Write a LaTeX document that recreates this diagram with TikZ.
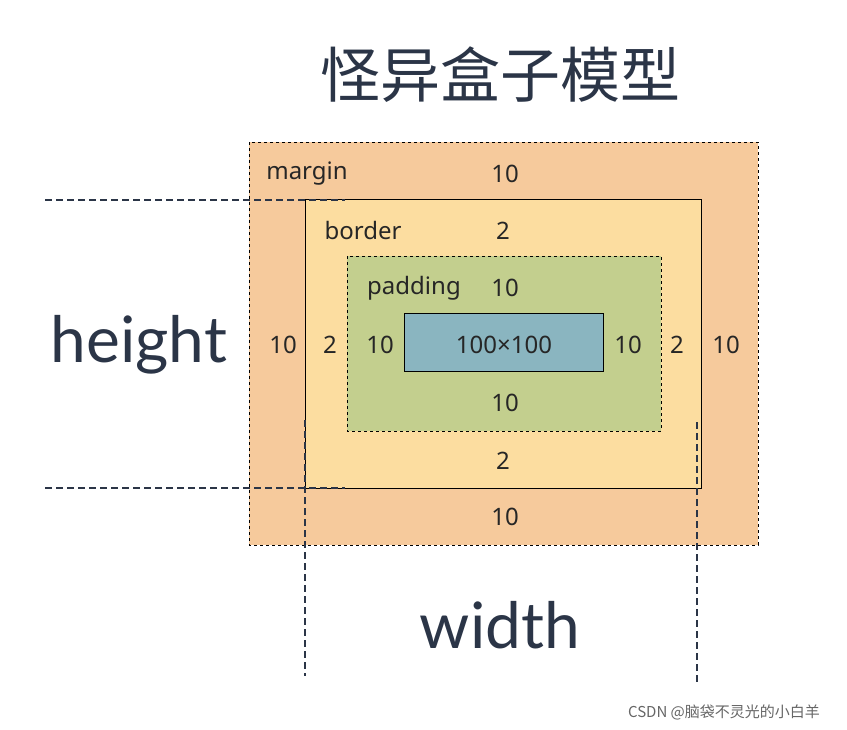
\documentclass[tikz,border=0pt]{standalone}
\usepackage{fontspec}
\setmainfont{Noto Sans}
\newfontfamily\cjk{Noto Sans CJK SC}
\newfontfamily\bigf{Lato}
\definecolor{mcol}{HTML}{F6CA9C}
\definecolor{bcol}{HTML}{FCDDA0}
\definecolor{pcol}{HTML}{C3CF8E}
\definecolor{ccol}{HTML}{8AB5C0}
\definecolor{navy}{HTML}{2B3547}
\tikzset{lbl/.style={font=\fontsize{24}{28}\selectfont, text=black!85, inner sep=0pt},
 guide/.style={draw=navy, line width=2.2pt, dash pattern=on 7pt off 4pt},
 big/.style={font=\bigf\fontsize{64}{70}\selectfont, text=navy}}
\begin{document}
\begin{tikzpicture}[x=1pt,y=-1pt]
\useasboundingbox (0,0) rectangle (847,730);
\fill[white] (0,0) rectangle (847,730);
\node (title) at (500,75) {\cjk\fontsize{60}{66}\selectfont\color{navy}怪异盒子模型};
\draw[fill=mcol, dashed, line width=0.8pt] (249,142) rectangle (758,545);
\draw[fill=bcol, line width=0.8pt] (305,199) rectangle (701,488);
\draw[fill=pcol, dashed, line width=0.8pt] (347,256) rectangle (661,431);
\draw[fill=ccol, line width=0.8pt] (404,313) rectangle (603,371);
\node[lbl] (ml) at (307,174) {margin};
\node[lbl] (mt) at (505,174) {10};
\node[lbl] (bl) at (363,231) {border};
\node[lbl] (bt) at (503,231) {2};
\node[lbl] (pl) at (414,288) {padding};
\node[lbl] (pt) at (505,288) {10};
\node[lbl] (m1) at (283,345) {10};
\node[lbl] (b1) at (330,345) {2};
\node[lbl] (p1) at (380,345) {10};
\node[lbl] (c) at (504,345) {100×100};
\node[lbl] (p2) at (628,345) {10};
\node[lbl] (b2) at (677,345) {2};
\node[lbl] (m2) at (726,345) {10};
\node[lbl] (pb) at (505,403) {10};
\node[lbl] (bb) at (503,461) {2};
\node[lbl] (mb) at (505,517) {10};
\node[big] (h) at (139,345) {height};
\node[big] (w) at (500,625) {width};
\coordinate (h1a) at (45,200); \coordinate (h1b) at (345,200);
\coordinate (h2a) at (45,488); \coordinate (h2b) at (345,488);
\coordinate (v1a) at (305,420); \coordinate (v1b) at (305,676);
\coordinate (v2a) at (697,422); \coordinate (v2b) at (697,682);
\draw[guide] (h1a) -- (h1b);
\draw[guide] (h2a) -- (h2b);
\draw[guide] (v1a) -- (v1b);
\draw[guide] (v2a) -- (v2b);
\node[font=\cjk\fontsize{15}{18}\selectfont, text=black!60] (wm) at (724,712) {CSDN @脑袋不灵光的小白羊};
\end{tikzpicture}
\end{document}
